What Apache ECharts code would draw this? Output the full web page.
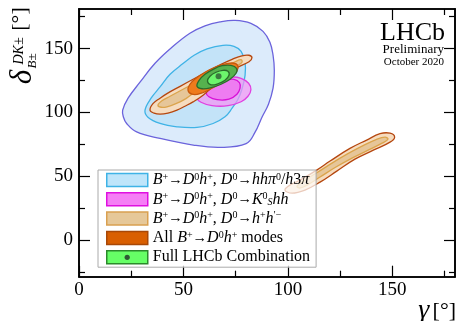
<!DOCTYPE html>
<html>
<head>
<meta charset="utf-8">
<script src="https://cdn.jsdelivr.net/npm/echarts@6/dist/echarts.min.js"></script>
<style>
html, body { margin: 0; padding: 0; background: #fff; }
#gamma { width: 457px; height: 321px; }
</style>
</head>
<body>
<div id="gamma"></div>
<script>
// contour outlines, [gamma, delta] in degrees
var blue2 = [[20.9, 101.8], [21.3, 96.3], [22.8, 91.4], [27.6, 84.8], [38.8, 79.7], [54.7, 74.5], [67.5, 72.7], [80.0, 75.6], [84.3, 84.6], [87.6, 96.3], [90.7, 106.5], [92.9, 119.0], [93.5, 133.0], [92.9, 144.8], [91.4, 155.0], [88.1, 163.5], [82.3, 169.8], [74.7, 172.1], [67.5, 170.9], [60.3, 167.8], [53.1, 162.0], [44.5, 151.0], [36.4, 138.5], [29.2, 123.7], [23.5, 111.2]]
var blue1 = [[31.6, 101.8], [33.0, 96.3], [38.8, 91.4], [46.9, 88.8], [56.5, 88.3], [64.2, 91.4], [69.9, 96.6], [73.3, 103.4], [76.1, 110.4], [78.0, 118.2], [79.5, 129.1], [79.5, 139.3], [77.6, 147.9], [74.2, 151.8], [68.9, 152.6], [61.3, 149.8], [55.1, 144.8], [49.8, 138.3], [43.6, 129.9], [38.8, 120.0], [34.5, 111.2]]
var kshh2 = [[56.5, 111.2], [57.5, 115.9], [60.8, 120.2], [66.1, 124.1], [72.3, 127.6], [77.6, 126.8], [81.2, 122.9], [82.3, 117.8], [80.9, 112.7], [77.6, 108.4], [71.3, 105.3], [63.7, 105.3], [58.4, 108.0]]
var kshh1 = [[60.8, 115.9], [61.8, 119.8], [65.1, 122.9], [69.9, 125.2], [74.2, 126.0], [76.8, 123.3], [77.1, 119.0], [75.6, 114.3], [71.8, 110.4], [66.1, 110.0], [62.2, 112.3]]
var hh2a = [[34.0, 101.8], [35.4, 106.9], [38.8, 111.2], [42.1, 114.8], [48.4, 120.5], [54.6, 126.0], [61.3, 131.9], [67.5, 137.3], [73.3, 141.6], [78.0, 144.4], [81.4, 144.8], [82.8, 142.8], [81.4, 139.7], [75.6, 135.0], [69.9, 128.4], [64.2, 120.5], [59.4, 113.5], [54.6, 108.3], [50.7, 104.9], [46.9, 101.8], [42.6, 99.5], [38.8, 98.7], [35.9, 99.5]]
var hh1a = [[37.8, 105.7], [39.7, 109.2], [43.6, 112.7], [49.8, 118.2], [56.5, 124.1], [63.2, 129.9], [69.4, 135.4], [74.7, 139.7], [77.6, 141.3], [78.0, 139.3], [75.2, 136.2], [69.4, 130.3], [62.7, 123.7], [56.0, 116.6], [51.2, 110.9], [46.4, 106.9], [42.1, 104.4], [39.3, 104.1]]
var hh2b = [[98.6, 39.3], [101.0, 43.2], [105.8, 47.1], [113.8, 54.9], [120.2, 62.0], [129.7, 71.9], [137.7, 78.4], [144.1, 83.4], [148.9, 83.8], [151.1, 80.7], [148.9, 76.8], [140.9, 70.5], [132.1, 63.5], [123.4, 54.1], [115.4, 45.5], [108.2, 39.3], [102.0, 36.9]]
var hh1b = [[104.4, 42.4], [108.2, 47.1], [114.4, 53.4], [121.1, 60.4], [128.3, 67.4], [135.5, 73.7], [142.2, 78.8], [146.5, 80.7], [147.9, 79.1], [145.1, 76.0], [138.4, 70.5], [130.7, 64.3], [123.0, 57.3], [115.4, 49.5], [109.2, 43.2], [105.8, 40.9]]
var all2 = [[52.2, 117.4], [53.1, 122.1], [56.0, 126.8], [60.3, 131.5], [65.6, 135.8], [71.3, 138.5], [75.2, 138.1], [76.1, 134.6], [74.2, 129.9], [69.4, 124.5], [63.7, 119.0], [57.9, 114.7], [54.1, 114.3]]
var comb2 = [[56.5, 120.5], [57.5, 125.2], [60.3, 129.9], [64.2, 133.8], [68.5, 136.6], [72.8, 136.9], [75.4, 134.6], [75.2, 130.7], [72.3, 126.0], [68.0, 122.1], [63.2, 119.4], [58.9, 118.6]]
var comb1 = [[61.5, 124.5], [62.7, 128.4], [65.6, 131.5], [68.9, 133.0], [71.3, 132.3], [71.8, 129.1], [69.9, 125.2], [66.5, 122.5], [63.2, 121.7]]
var best = [[66.8, 128.4]]

var xMajor = [0, 50, 100, 150]
var xMinor = [25, 75, 125, 175]
var yMajor = [0, 50, 100, 150]
var yMinor = [-25, 25, 75, 125, 175]

var serif = 'Liberation Serif'

// legend texts
var legendText = {
  hhpi0: '{i|B}{sup|+}{ar|→}{i|D}{sup|0}{i|h}{sup|+}{r|, }{i|D}{sup|0}{ar|→}{i|hhπ}{sup|0}{r|/}{i|h}{r|3}{i|π}',
  kshh: '{i|B}{sup|+}{ar|→}{i|D}{sup|0}{i|h}{sup|+}{r|, }{i|D}{sup|0}{ar|→}{i|K}{sup|0}{sub|S}{i|hh}',
  hh: '{i|B}{sup|+}{ar|→}{i|D}{sup|0}{i|h}{sup|+}{r|, }{i|D}{sup|0}{ar|→}{i|h}{sup|+}{i|h}{sup|′−}',
  all: '{r|All }{i|B}{sup|+}{ar|→}{i|D}{sup|0}{i|h}{sup|+}{r| modes}',
  comb: '{r|Full LHCb Combination}'
}

function contour(name, pts, fill, stroke) {
  return {
    type: 'custom',
    name: name,
    coordinateSystem: 'cartesian2d',
    silent: true,
    animation: false,
    data: pts,
    renderItem: function (params, api) {
      if (params.dataIndex !== 0) return null
      return {
        type: 'polygon',
        shape: { points: pts.map(function (p) { return api.coord(p) }), smooth: 0.4 },
        style: { fill: fill, stroke: stroke, lineWidth: 1.3 }
      }
    }
  }
}

function xAx(pos, ticks, len, labels) {
  return {
    type: 'value', position: pos, min: 0, max: 180,
    axisLine: { show: true, onZero: false, lineStyle: { color: '#000', width: 1.6 } },
    axisTick: { show: true, inside: true, length: len, customValues: ticks, lineStyle: { color: '#000', width: 1.2 } },
    axisLabel: labels ? { show: true, customValues: labels, margin: 4, color: '#000', fontSize: 19, fontFamily: serif } : { show: false },
    splitLine: { show: false }
  }
}
function yAx(pos, ticks, len, labels) {
  return {
    type: 'value', position: pos, min: -28.5, max: 181,
    axisLine: { show: true, onZero: false, lineStyle: { color: '#000', width: 1.6 } },
    axisTick: { show: true, inside: true, length: len, customValues: ticks, lineStyle: { color: '#000', width: 1.2 } },
    axisLabel: labels ? { show: true, customValues: labels, margin: 6, color: '#000', fontSize: 19, fontFamily: serif } : { show: false },
    splitLine: { show: false }
  }
}

var myChart = echarts.init(document.getElementById('gamma'))
myChart.setOption({
  animation: false,
  grid: { left: 79, right: 2, top: 9, bottom: 44.3, containLabel: false, outerBoundsMode: 'none' },
  xAxis: [xAx('bottom', xMajor, 11, xMajor), xAx('bottom', xMinor, 6), xAx('top', xMajor, 11), xAx('top', xMinor, 6)],
  yAxis: [yAx('left', yMajor, 11, yMajor), yAx('left', yMinor, 6), yAx('right', yMajor, 11), yAx('right', yMinor, 6)],
  legend: {
    orient: 'vertical',
    left: 98,
    top: 170,
    padding: [2, 6, 2, 8],
    itemGap: 3.3,
    itemWidth: 41,
    itemHeight: 13,
    icon: 'rect',
    selectedMode: false,
    backgroundColor: 'rgba(255,255,255,0.72)',
    borderColor: '#aaaaaa',
    borderWidth: 1,
    data: [
      { name: 'hhpi0', itemStyle: { color: '#bfe5fa', borderColor: '#3fb3e6', borderWidth: 1.5 } },
      { name: 'kshh', itemStyle: { color: '#f57ff5', borderColor: '#e010e0', borderWidth: 1.5 } },
      { name: 'hh', itemStyle: { color: '#e6c899', borderColor: '#d9a050', borderWidth: 1.5 } },
      { name: 'all', itemStyle: { color: '#d95f02', borderColor: '#a84808', borderWidth: 1.5 } },
      { name: 'comb', itemStyle: { color: '#66ff66', borderColor: '#2b8a2b', borderWidth: 1.5 } }
    ],
    formatter: function (name) { return legendText[name] },
    textStyle: {
      color: '#000', fontFamily: serif, fontSize: 16, lineHeight: 16,
      rich: {
        r: { fontFamily: serif, fontSize: 16, lineHeight: 16 },
        i: { fontFamily: serif, fontSize: 16, lineHeight: 16, fontStyle: 'italic' },
        ar: { fontFamily: serif, fontSize: 14.5, lineHeight: 16 },
        sup: { fontFamily: serif, fontSize: 10, lineHeight: 10, verticalAlign: 'top' },
        sub: { fontFamily: serif, fontSize: 10, lineHeight: 10, fontStyle: 'italic', verticalAlign: 'bottom' }
      }
    }
  },
  graphic: [
    { type: 'circle', z: 100, shape: { cx: 127.2, cy: 257.3, r: 2.6 }, style: { fill: '#2f5a34' } },
    { type: 'text', x: 445, y: 33, style: { text: 'LHCb', font: '26px "Liberation Serif"', fill: '#000', align: 'right', verticalAlign: 'middle' } },
    { type: 'text', x: 444, y: 50, style: { text: 'Preliminary', font: '13px "Liberation Serif"', fill: '#000', align: 'right', verticalAlign: 'middle' } },
    { type: 'text', x: 444, y: 62.5, style: { text: 'October 2020', font: '11px "Liberation Serif"', fill: '#000', align: 'right', verticalAlign: 'middle' } },
    {
      type: 'text', x: 456, y: 311,
      style: {
        text: '{g|γ} {b|[°]}', align: 'right', verticalAlign: 'middle', fill: '#000',
        rich: {
          g: { fontFamily: serif, fontSize: 28, fontStyle: 'italic' },
          b: { fontFamily: serif, fontSize: 22 }
        }
      }
    },
    { type: 'text', x: 20, y: 19, rotation: Math.PI / 2, style: { text: '[°]', font: '22px "Liberation Serif"', fill: '#000', align: 'center', verticalAlign: 'middle' } },
    { type: 'text', x: 19, y: 51, rotation: Math.PI / 2, style: { text: 'DK±', font: 'italic 14px "Liberation Serif"', fill: '#000', align: 'center', verticalAlign: 'middle' } },
    { type: 'text', x: 33, y: 61, rotation: Math.PI / 2, style: { text: 'B±', font: 'italic 13px "Liberation Serif"', fill: '#000', align: 'center', verticalAlign: 'middle' } },
    { type: 'text', x: 23, y: 77, rotation: Math.PI / 2, style: { text: 'δ', font: 'italic 31px "Liberation Serif"', fill: '#000', align: 'center', verticalAlign: 'middle' } }
  ],
  series: [
    contour('hhpi0', blue2, '#dcebfb', '#6b63dc'),
    contour('hhpi0', blue1, '#c3e3f8', '#3fb3e6'),
    contour('kshh', kshh2, 'rgba(244,150,244,0.72)', '#e040e0'),
    contour('kshh', kshh1, 'rgba(240,112,240,0.8)', '#d810d8'),
    contour('hh', hh2a, '#f6dcbf', '#b5470f'),
    contour('hh', hh1a, '#e6c699', '#dba44c'),
    contour('hh', hh2b, '#f6dcbf', '#b5470f'),
    contour('hh', hh1b, '#e6c699', '#dba44c'),
    contour('all', all2, '#ef7b1c', '#c8580c'),
    contour('comb', comb2, '#56b24e', '#2b6b2b'),
    contour('comb', comb1, '#6cf56c', '#2b6b2b'),
    {
      type: 'scatter', name: 'comb', data: best, symbolSize: 6, silent: true,
      itemStyle: { color: '#2f5a34' }, z: 5
    }
  ]
})
</script>
</body>
</html>
